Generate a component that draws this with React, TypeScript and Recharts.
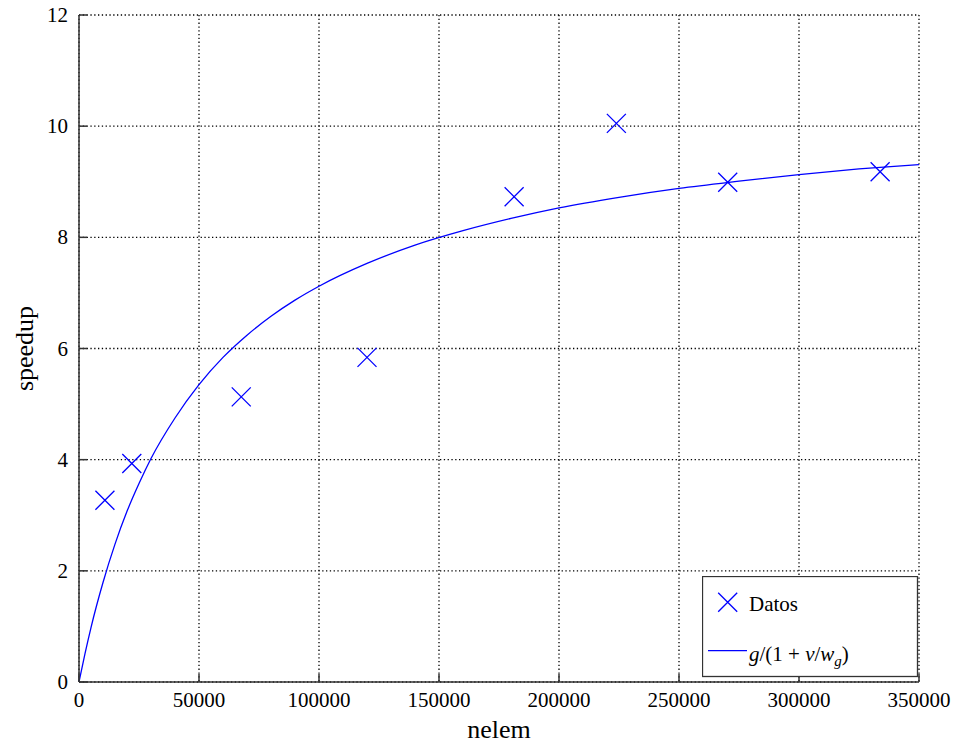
import {
  ComposedChart,
  Line,
  Scatter,
  XAxis,
  YAxis,
  CartesianGrid,
  Legend,
} from 'recharts'

const FONT = '"Liberation Serif", "Times New Roman", serif'
const BLUE = '#0000ff'

// measured points
const datosX = [10800, 22000, 67600, 120000, 181300, 223900, 270300, 333800]
const datosY = [3.27, 3.93, 5.13, 5.84, 8.73, 10.05, 8.99, 9.18]

// fitted curve g/(1+nu/w_g)
const curveX = [
  0, 2500, 5000, 10000, 15000, 20000, 25000, 30000, 40000, 50000, 60000, 70000,
  80000, 90000, 100000, 120000, 140000, 160000, 180000, 200000, 225000, 250000,
  275000, 300000, 325000, 350000,
]
const curveY = [
  0, 0.51, 0.98, 1.79, 2.48, 3.07, 3.57, 4.02, 4.75, 5.35, 5.84, 6.24, 6.58,
  6.87, 7.12, 7.53, 7.86, 8.12, 8.34, 8.53, 8.72, 8.88, 9.01, 9.13, 9.23, 9.31,
]

const xTicks = [0, 50000, 100000, 150000, 200000, 250000, 300000, 350000]
const yTicks = [0, 2, 4, 6, 8, 10, 12]

const datos = datosX.map((x, i) => ({ x, y: datosY[i] }))
const curve = curveX.map((x, i) => ({ x, y: curveY[i] }))

const frame = { stroke: '#333', strokeWidth: 1.5 }

function XTick(props: any) {
  const { x, y, payload } = props
  return (
    <text x={x} y={y + 15} textAnchor="middle" fontFamily={FONT} fontSize={21} fill="#000">
      {payload.value}
    </text>
  )
}

function YTick(props: any) {
  const { x, y, payload } = props
  return (
    <text x={x} y={y + 7} textAnchor="end" fontFamily={FONT} fontSize={21} fill="#000">
      {payload.value}
    </text>
  )
}

function Cross(props: any) {
  const { cx, cy } = props
  const r = 9.5
  return (
    <path
      d={`M${cx - r},${cy - r}L${cx + r},${cy + r}M${cx - r},${cy + r}L${cx + r},${cy - r}`}
      stroke={BLUE}
      strokeWidth={1.3}
      fill="none"
    />
  )
}

function LegendBox() {
  return (
    <svg width={217} height={103} style={{ display: 'block' }}>
      <rect x={0.5} y={0.5} width={215} height={100} fill="#fff" stroke="#333" strokeWidth={1.3} />
      <Cross cx={25.7} cy={26.3} />
      <text x={47} y={35} fontFamily={FONT} fontSize={21}>
        Datos
      </text>
      <line x1={6} y1={74.7} x2={45} y2={74.7} stroke={BLUE} strokeWidth={1.2} />
      <text x={47} y={85} fontFamily={FONT} fontSize={21}>
        <tspan fontStyle="italic">g</tspan>
        <tspan>/(1 + </tspan>
        <tspan fontStyle="italic">ν</tspan>
        <tspan>/</tspan>
        <tspan fontStyle="italic">w</tspan>
        <tspan fontStyle="italic" fontSize={15} dy={5}>g</tspan>
        <tspan dy={-5}>)</tspan>
      </text>
    </svg>
  )
}

export default function App() {
  return (
    <div
      style={{
        position: 'absolute',
        left: 0,
        top: 0,
        background: '#fff',
        fontFamily: FONT,
      }}
    >
      <ComposedChart
        width={957}
        height={747}
        margin={{ top: 15, right: 38, bottom: 0, left: 0 }}
      >
        <CartesianGrid stroke="#000" strokeDasharray="1.3 2.5" strokeWidth={1.3} />
        <XAxis
          dataKey="x"
          type="number"
          domain={[0, 350000]}
          ticks={xTicks}
          interval={0}
          height={65}
          tick={<XTick />}
          tickSize={-8}
          tickMargin={18}
          axisLine={frame}
          tickLine={frame}
          label={{
            content: (p: any) => {
              const vb = p.viewBox
              return (
                <text
                  x={vb.x + vb.width / 2}
                  y={738}
                  textAnchor="middle"
                  fontFamily={FONT}
                  fontSize={26}
                >
                  nelem
                </text>
              )
            },
          }}
        />
        <XAxis
          xAxisId="top"
          orientation="top"
          dataKey="x"
          type="number"
          domain={[0, 350000]}
          ticks={xTicks}
          interval={0}
          height={0}
          tickSize={-8}
          tickFormatter={() => ''}
          axisLine={frame}
          tickLine={frame}
        />
        <YAxis
          type="number"
          domain={[0, 12]}
          ticks={yTicks}
          interval={0}
          width={79}
          tick={<YTick />}
          tickSize={-8}
          tickMargin={19}
          axisLine={frame}
          tickLine={frame}
          label={{
            content: (p: any) => {
              const vb = p.viewBox
              const cx = 24
              const cy = vb.y + vb.height / 2
              return (
                <text
                  x={cx}
                  y={cy}
                  transform={`rotate(-90 ${cx} ${cy})`}
                  textAnchor="middle"
                  dominantBaseline="central"
                  fontFamily={FONT}
                  fontSize={26}
                >
                  speedup
                </text>
              )
            },
          }}
        />
        <YAxis
          yAxisId="right"
          orientation="right"
          type="number"
          domain={[0, 12]}
          ticks={yTicks}
          interval={0}
          width={0}
          tickSize={-8}
          tickFormatter={() => ''}
          axisLine={frame}
          tickLine={frame}
        />
        <Line
          data={curve}
          dataKey="y"
          type="monotone"
          stroke={BLUE}
          strokeWidth={1.3}
          dot={false}
          activeDot={false}
          isAnimationActive={false}
        />
        <Scatter data={datos} dataKey="y" shape={<Cross />} isAnimationActive={false} />
        <Legend
          layout="horizontal"
          verticalAlign="middle"
          align="center"
          wrapperStyle={{ left: 702, top: 576, width: 217, height: 103 }}
          content={() => <LegendBox />}
        />
      </ComposedChart>
    </div>
  )
}
